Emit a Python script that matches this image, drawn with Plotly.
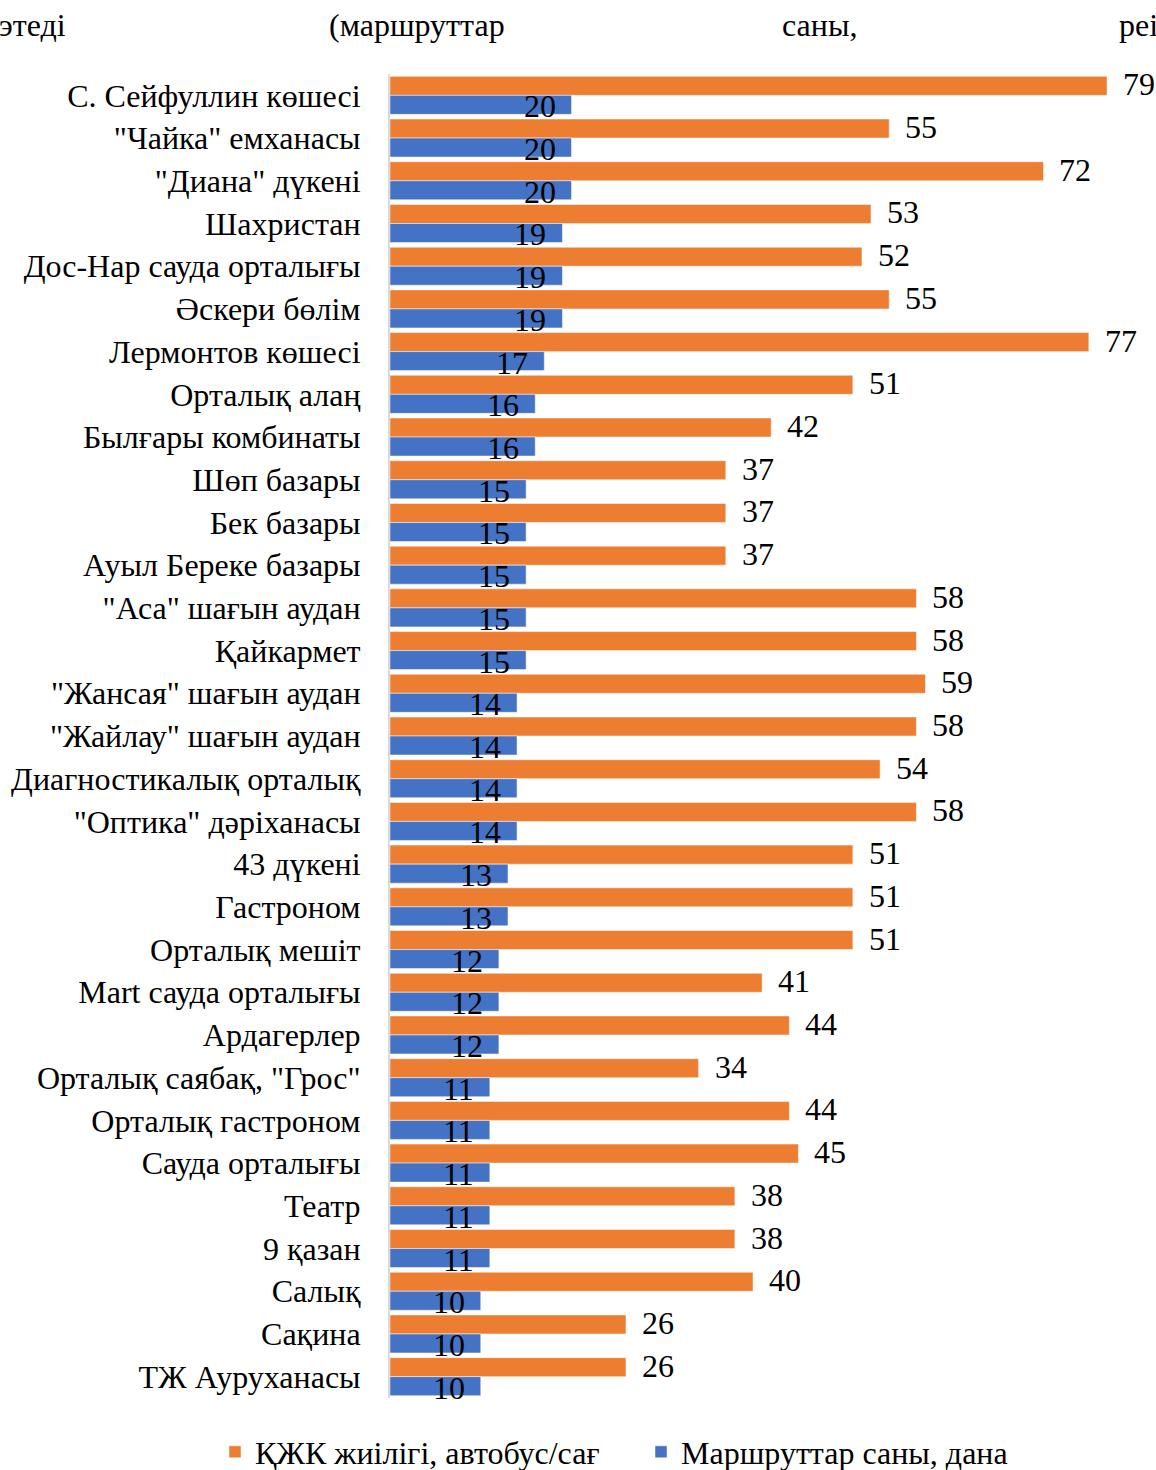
import plotly.graph_objects as go

categories = [
    "С. Сейфуллин көшесі", "\"Чайка\" емханасы", "\"Диана\" дүкені", "Шахристан",
    "Дос-Нар сауда орталығы", "Әскери бөлім", "Лермонтов көшесі", "Орталық алаң",
    "Былғары комбинаты", "Шөп базары", "Бек базары", "Ауыл Береке базары",
    "\"Аса\" шағын аудан", "Қайкармет", "\"Жансая\" шағын аудан", "\"Жайлау\" шағын аудан",
    "Диагностикалық орталық", "\"Оптика\" дәріханасы", "43 дүкені", "Гастроном",
    "Орталық мешіт", "Mart сауда орталығы", "Ардагерлер", "Орталық саябақ, \"Грос\"",
    "Орталық гастроном", "Сауда орталығы", "Театр", "9 қазан", "Салық", "Сақина",
    "ТЖ Ауруханасы",
]
frequency = [79, 55, 72, 53, 52, 55, 77, 51, 42, 37, 37, 37, 58, 58, 59, 58, 54, 58,
             51, 51, 51, 41, 44, 34, 44, 45, 38, 38, 40, 26, 26]
routes = [20, 20, 20, 19, 19, 19, 17, 16, 16, 15, 15, 15, 15, 15, 14, 14, 14, 14,
          13, 13, 12, 12, 12, 11, 11, 11, 11, 11, 10, 10, 10]
series_names = ["ҚЖК жиілігі, автобус/сағ", "Маршруттар саны, дана"]
header_words = ["этеді", "(маршруттар", "саны,", "реі"]

ORANGE = "#ED7D31"
BLUE = "#4472C4"
FONT = "Liberation Serif, Times New Roman, serif"
FS = 32

W, H = 1156, 1470
L, R, T, B = 390, 0, 74, 72
plot_w = W - L - R
plot_h = H - T - B

fig = go.Figure()
fig.add_trace(go.Bar(y=categories, x=frequency, orientation="h", name=series_names[0],
                     legend="legend",
                     marker=dict(color=ORANGE, line=dict(color="white", width=0.5))))
fig.add_trace(go.Bar(y=categories, x=routes, orientation="h", name=series_names[1],
                     legend="legend2",
                     marker=dict(color=BLUE, line=dict(color="white", width=0.5))))

annotations = []
for c, v in zip(categories, frequency):
    annotations.append(dict(x=v, y=c, xref="x", yref="y", text=str(v), showarrow=False,
                            xanchor="left", xshift=14, yshift=11,
                            font=dict(family=FONT, size=FS, color="black")))
for c, v in zip(categories, routes):
    annotations.append(dict(x=v, y=c, xref="x", yref="y", text=str(v), showarrow=False,
                            xanchor="right", xshift=-14, yshift=-11,
                            font=dict(family=FONT, size=FS, color="black")))

header_px = [-3, 327, 780, 1117]
for wd, px in zip(header_words, header_px):
    annotations.append(dict(x=(px - L) / plot_w, y=1 + (T - 25) / plot_h, xref="paper", yref="paper",
                            text=wd, showarrow=False, xanchor="left", yanchor="middle",
                            font=dict(family=FONT, size=FS, color="black")))

legend_common = dict(orientation="h", xref="container", yref="container",
                     y=(H - 1452) / H, xanchor="left", yanchor="middle",
                     font=dict(family=FONT, size=FS, color="black"),
                     itemclick=False, bgcolor="rgba(0,0,0,0)")

n = len(categories)
fig.update_layout(
    width=W, height=H,
    margin=dict(l=L, r=R, t=T, b=B, pad=0, autoexpand=False),
    paper_bgcolor="white", plot_bgcolor="white",
    barmode="group", bargap=0.11, bargroupgap=0,
    font=dict(family=FONT, size=FS, color="black"),
    xaxis=dict(range=[0, plot_w / 9.076], autorange=False, showgrid=False, showticklabels=False,
               zeroline=False, showline=False, ticks=""),
    yaxis=dict(range=[n - 0.5, -0.5], autorange=False, showgrid=False, showline=True,
               linecolor="#D9D9D9", linewidth=2, ticks="", ticklabelstandoff=21,
               automargin=False, tickfont=dict(family=FONT, size=FS, color="black")),
    legend=dict(x=215 / W, **legend_common),
    legend2=dict(x=641 / W, **legend_common),
    annotations=annotations,
    showlegend=True,
)
fig.write_html("out.html", config={"displayModeBar": False},
               post_script="document.body.style.margin='0';document.body.style.overflow='hidden';")
